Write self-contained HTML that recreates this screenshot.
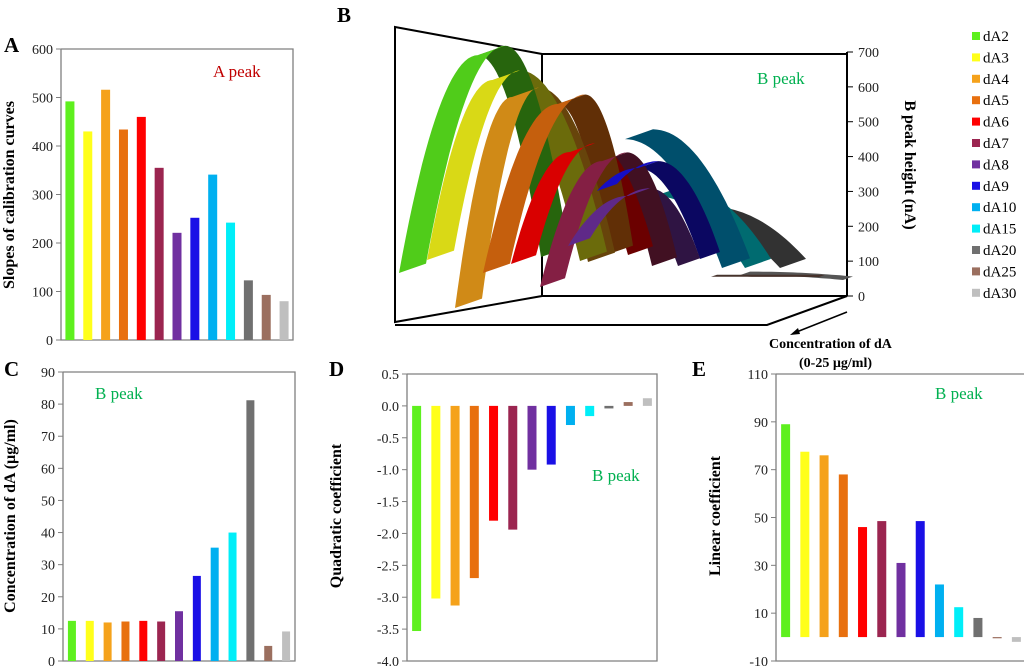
<!DOCTYPE html>
<html><head><meta charset="utf-8"><style>
html,body{margin:0;padding:0;background:#fff;}
svg{display:block;font-family:"Liberation Serif","Times New Roman",serif;}
</style></head>
<body>
<svg id="fig" width="1024" height="667" viewBox="0 0 1024 667" xmlns="http://www.w3.org/2000/svg"></svg>
<script>
const series = ['dA2','dA3','dA4','dA5','dA6','dA7','dA8','dA9','dA10','dA15','dA20','dA25','dA30'];
const colors = ['#5ef01e','#ffff1a','#f5a21b','#e8700f','#ff0000','#9b2550','#7030a0','#1a10e6','#00b0f0','#00eef8','#707070','#9b6f5f','#bfbfbf'];
const slopesA = [492,430,516,434,460,355,221,252,341,242,123,93,80];
const concC = [12.5,12.5,12,12.3,12.5,12.3,15.5,26.5,35.3,40,81.2,4.7,9.2];
const quadD = [-3.53,-3.02,-3.13,-2.7,-1.8,-1.94,-1.0,-0.92,-0.3,-0.16,-0.04,0.06,0.12];
const linE = [89,77.5,76,68,46,48.5,31,48.5,22,12.5,8,-0.5,-2];
const ticksA = [0,100,200,300,400,500,600];
const ticksC = [0,10,20,30,40,50,60,70,80,90];
const ticksD = [0.5,0,-0.5,-1,-1.5,-2,-2.5,-3,-3.5,-4];
const ticksE = [-10,10,30,50,70,90,110];
const ticksB = [0,100,200,300,400,500,600,700];
const peakB = [691,620,571,551,413,387,287,367,450,287,230,55,60];

const NS='http://www.w3.org/2000/svg';
const svg=document.getElementById('fig');
function el(tag,attrs,parent,text){const e=document.createElementNS(NS,tag);for(const k in attrs)e.setAttribute(k,attrs[k]);if(text!==undefined)e.textContent=text;(parent||svg).appendChild(e);return e;}

function barPanel(name,vals,ticks,fmt,x0,x1,yTop,yBot,vmin,vmax,bw,boxRight){
  const g=el('g',{},svg);
  
  
  const y=v=>yBot-(v-vmin)/(vmax-vmin)*(yBot-yTop);
  const cw=(x1-x0)/vals.length;
  const frame=el('path',{d:`M${x0},${yTop}H${x1}`+(boxRight?`V${yBot}`:`M${x1},${yBot}`)+`H${x0}V${yTop}`,fill:'none',stroke:'#7f7f7f','stroke-width':1.3},g);
  
  
  ticks.forEach(t=>{
    el('line',{x1:x0-5,x2:x0,y1:y(t),y2:y(t),stroke:'#7f7f7f'},g);
    const lb=el('text',{x:x0-8,y:y(t)+5,'text-anchor':'end','font-size':14,fill:'#222'},g,fmt(t));
    
    
  });
  const z=y(Math.max(vmin,0));
  vals.forEach((v,i)=>{
    const cx=x0+cw*(i+0.5);
    const r=el('rect',{x:cx-bw/2,y:Math.min(y(v),z),width:bw,height:Math.abs(y(v)-z),fill:colors[i]},g);
    
    
  });
  return g;
}
function label(txt,x,y,attrs,name){const t=el('text',Object.assign({x:x,y:y},attrs),svg,txt);return t;}
function ytitle(txt,cx,cy,name){const t=el('text',{x:0,y:0,transform:`translate(${cx},${cy}) rotate(-90)`,'text-anchor':'middle','font-size':16,'font-weight':'bold',fill:'#000'},svg,txt);}

// Panel A
barPanel('panel-a',slopesA,ticksA,t=>String(t),61,293,49,340,0,600,9,true);
label('A',4,52,{'font-size':21,'font-weight':'bold'},'panel-a-letter');
label('A peak',213,77,{'font-size':17,fill:'#c00000'},'panel-a-annotation');
ytitle('Slopes of calibration curves',14,195,'panel-a-y-title');
// Panel C
barPanel('panel-c',concC,ticksC,t=>String(t),63,295,372,661,0,90,8,true);
label('C',4,376,{'font-size':21,'font-weight':'bold'},'panel-c-letter');
label('B peak',95,399,{'font-size':17,fill:'#00b050'},'panel-c-annotation');
ytitle('Concentration of dA (µg/ml)',15,516,'panel-c-y-title');
// Panel D
barPanel('panel-d',quadD,ticksD,t=>t.toFixed(1),407,657,374,661,-4,0.5,9,true);
label('D',329,376,{'font-size':21,'font-weight':'bold'},'panel-d-letter');
label('B peak',592,481,{'font-size':17,fill:'#00b050'},'panel-d-annotation');
ytitle('Quadratic coefficient',341,516,'panel-d-y-title');
// Panel E
barPanel('panel-e',linE,ticksE,t=>String(t),776,1026,374,661,-10,110,9,false);
label('E',692,376,{'font-size':21,'font-weight':'bold'},'panel-e-letter');
label('B peak',935,399,{'font-size':17,fill:'#00b050'},'panel-e-annotation');
ytitle('Linear coefficient',720,516,'panel-e-y-title');

// Panel B (pseudo-3D)
label('B',337,22,{'font-size':21,'font-weight':'bold'},'panel-b-letter');
const gB=el('g',{},svg);


el('path',{d:'M395,27L542,54V296L395,322ZM542,54H847M542,296H847L767,325H395M847,296V52',fill:'none',stroke:'#000','stroke-width':2},gB);
const yB=v=>296-v*244/700;
ticksB.forEach(t=>{
  el('line',{x1:847,x2:853,y1:yB(t),y2:yB(t),stroke:'#000'},gB);
  const lb=el('text',{x:858,y:yB(t)+5,'font-size':14,fill:'#222'},gB,String(t));
  
  
});
// layout of ribbon feet (visual geometry, not data)
const arcLayout=[
 {xl:399,yl:273,xa:478,xr:541,yr:257,w:27,full:true},
 {xl:427,yl:260,xa:493,xr:580,yr:261,w:27,full:true},
 {xl:455,yl:308,xa:512,xr:588,yr:262,w:27,full:true},
 {xl:483,yl:273,xa:558,xr:606,yr:255,w:27,full:true},
 {xl:511,yl:264,xa:570,xr:628,yr:255,w:25,full:true},
 {xl:540,yl:287,xa:602,xr:652,yr:266,w:25,full:true},
 {xl:568,yl:246,xa:628,xr:678,yr:266,w:22,full:true},
 {xl:597,yl:191,xa:638,xr:700,yr:259,w:20,full:true},
 {xl:625,yl:0,xa:625,xr:722,yr:268,w:28,full:false},
 {xl:655,yl:0,xa:655,xr:745,yr:268,w:26,full:false},
 {xl:685,yl:0,xa:685,xr:780,yr:268,w:26,full:false},
 {xl:711,yl:0,xa:711,xr:819,yr:277,w:6,full:false},
 {xl:740,yl:0,xa:740,xr:843,yr:280,w:10,full:false}];
function shade(hex,f){const n=parseInt(hex.slice(1),16);const r=(n>>16)&255,g=(n>>8)&255,b=n&255;return `rgb(${Math.round(r*f)},${Math.round(g*f)},${Math.round(b*f)})`;}
function curvePts(xf,yf,xa,ya){const pts=[];for(let k=0;k<=24;k++){const s=k/24;pts.push([xa+(xf-xa)*s,ya+(yf-ya)*s*s]);}return pts;}
function ribbon(xf,yf,xa,ya,w){
  const a=curvePts(xf,yf,xa,ya);
  const b=a.map(p=>[p[0]+w,p[1]-w*0.35]).reverse();
  return 'M'+a.concat(b).map(p=>p[0].toFixed(1)+','+p[1].toFixed(1)).join('L')+'Z';
}
// back (descending) halves first, in reverse order
for(let i=series.length-1;i>=0;i--){
  const L=arcLayout[i],ya=yB(peakB[i]);
  const p=el('path',{d:ribbon(L.xr,L.yr,L.xa,ya,L.w),fill:L.full?shade(colors[i],0.42):shade(colors[i],0.45)},gB);
  
  
}
for(let i=0;i<series.length;i++){
  const L=arcLayout[i];if(!L.full)continue;
  const ya=yB(peakB[i]);
  const p=el('path',{d:ribbon(L.xl,L.yl,L.xa,ya,L.w),fill:shade(colors[i],0.85)},gB);
  
  
}
label('B peak',757,84,{'font-size':17,fill:'#00b050'},'panel-b-annotation');
el('line',{x1:847,y1:312,x2:794,y2:333,stroke:'#000','stroke-width':1.5},gB);
el('path',{d:'M790,335L798,328L800,334Z',fill:'#000'},gB);
label('Concentration of  dA',769,348,{'font-size':14,'font-weight':'bold'},'panel-b-x-title');
label('(0-25 µg/ml)',799,367,{'font-size':14,'font-weight':'bold'},'panel-b-x-title-units');
const bt=el('text',{x:0,y:0,transform:'translate(905,165) rotate(90)','text-anchor':'middle','font-size':16,'font-weight':'bold'},svg,'B peak height (nA)');



// Legend
const gL=el('g',{},svg);


series.forEach((s,i)=>{
  const yy=36+i*21.4;
  const e=el('g',{},gL);
  
  
  el('rect',{x:972,y:yy-4,width:8,height:8,fill:colors[i]},e);
  el('text',{x:983,y:yy+5,'font-size':15},e,s);
});
</script>
</body></html>
